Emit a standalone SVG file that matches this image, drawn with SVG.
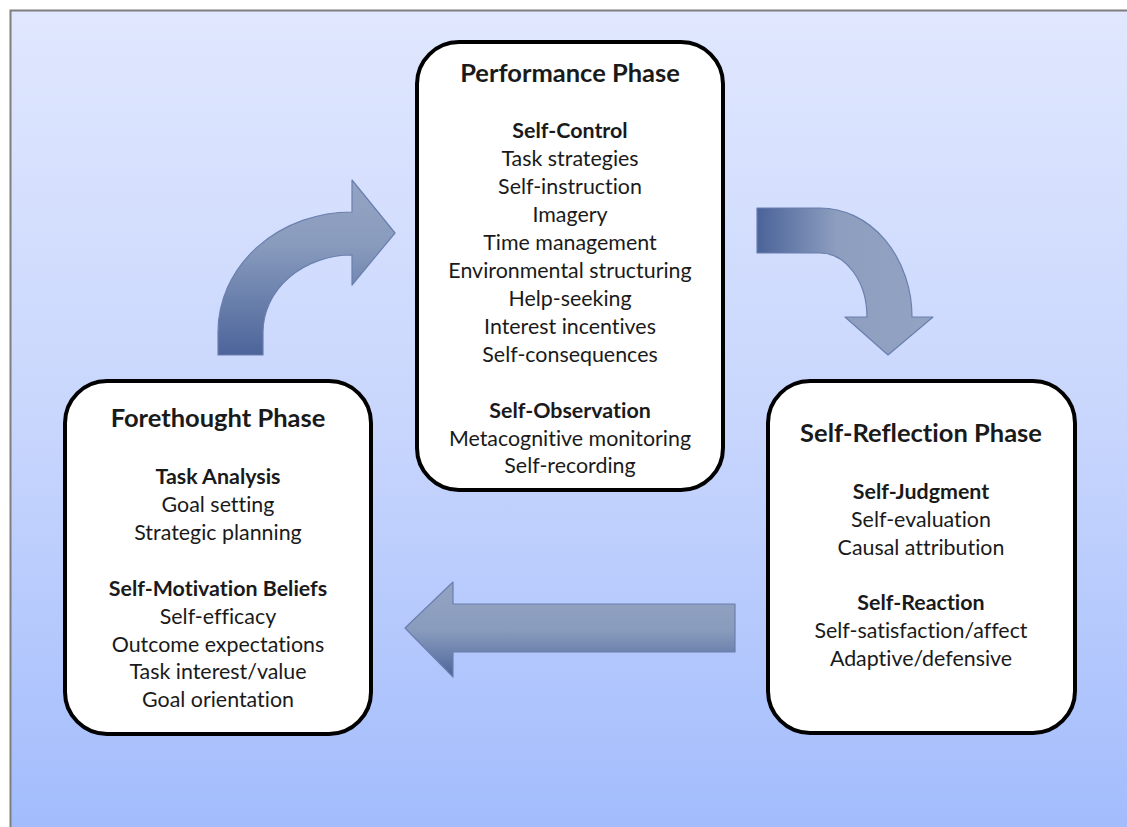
<svg xmlns="http://www.w3.org/2000/svg" width="1127" height="827" viewBox="0 0 1127 827">
  <defs>
    <linearGradient id="bg" x1="0" y1="0" x2="0" y2="1">
      <stop offset="0" stop-color="#e0e7fe"/>
      <stop offset="0.5" stop-color="#c8d6fd"/>
      <stop offset="1" stop-color="#a1bbfc"/>
    </linearGradient>
    <linearGradient id="gUp" gradientUnits="userSpaceOnUse" x1="0" y1="180" x2="0" y2="358">
      <stop offset="0" stop-color="#93a3c2"/>
      <stop offset="0.35" stop-color="#8a9cbe"/>
      <stop offset="1" stop-color="#4a6399"/>
    </linearGradient>
    <linearGradient id="gDown" gradientUnits="userSpaceOnUse" x1="757" y1="0" x2="935" y2="0">
      <stop offset="0" stop-color="#4a6399"/>
      <stop offset="0.45" stop-color="#8d9ebf"/>
      <stop offset="1" stop-color="#93a3c2"/>
    </linearGradient>
    <linearGradient id="gLeft" gradientUnits="userSpaceOnUse" x1="0" y1="582" x2="0" y2="677">
      <stop offset="0" stop-color="#93a3c2"/>
      <stop offset="0.5" stop-color="#8a9cbd"/>
      <stop offset="0.75" stop-color="#6c82ad"/>
      <stop offset="1" stop-color="#4c6298"/>
    </linearGradient>
  </defs>
  <style>
    .box { fill: #ffffff; stroke: #000000; stroke-width: 4; }
    .arrow { stroke: #6a7fae; stroke-width: 1.2; stroke-linejoin: round; }
    text { font-family: Lato, "Open Sans", "Liberation Sans", sans-serif; fill: #1a1a1a; text-anchor: middle; font-size: 21.4px; font-variant-ligatures: none; }
    .title { font-weight: bold; font-size: 25.5px; }
    .head { font-weight: bold; }
  </style>

  <!-- backdrop panel -->
  <rect x="10.5" y="10.5" width="1130" height="830" fill="url(#bg)" stroke="#7f7f7f" stroke-width="2"/>

  <!-- block arrows linking the phases -->
  <g id="connectors">
    <path class="arrow" fill="url(#gUp)" d="M218,355 L218,332 A134,120 0 0 1 352,212 L352,180 L395,233 L352,285 L352,255 A89,77 0 0 0 263,332 L263,355 Z"/>
    <path class="arrow" fill="url(#gDown)" d="M757,208 L820,208 A92,109 0 0 1 912,317 L933,317 L888,355 L845,317 L867,317 A47,64 0 0 0 820,253 L757,253 Z"/>
    <path class="arrow" fill="url(#gLeft)" d="M735,604 L453,604 L453,582 L405,628 L453,677 L453,652 L735,652 Z"/>
  </g>

  <g id="performance">
    <rect class="box" x="417" y="42" width="306" height="448" rx="42" ry="42"/>
    <text class="title" x="570" y="82">Performance Phase</text>
    <text class="head" x="570" y="138">Self-Control</text>
    <text x="570" y="166">Task strategies</text>
    <text x="570" y="194">Self-instruction</text>
    <text x="570" y="222">Imagery</text>
    <text x="570" y="250">Time management</text>
    <text x="570" y="278">Environmental structuring</text>
    <text x="570" y="306">Help-seeking</text>
    <text x="570" y="334">Interest incentives</text>
    <text x="570" y="362">Self-consequences</text>
    <text class="head" x="570" y="418">Self-Observation</text>
    <text x="570" y="446">Metacognitive monitoring</text>
    <text x="570" y="473">Self-recording</text>
  </g>

  <g id="forethought">
    <rect class="box" x="65" y="381" width="306" height="353" rx="42" ry="42"/>
    <text class="title" x="218" y="427">Forethought Phase</text>
    <text class="head" x="218" y="484">Task Analysis</text>
    <text x="218" y="512">Goal setting</text>
    <text x="218" y="540">Strategic planning</text>
    <text class="head" x="218" y="596">Self-Motivation Beliefs</text>
    <text x="218" y="624">Self-efficacy</text>
    <text x="218" y="652">Outcome expectations</text>
    <text x="218" y="679">Task interest/value</text>
    <text x="218" y="707">Goal orientation</text>
  </g>

  <g id="self-reflection">
    <rect class="box" x="768" y="381" width="307" height="352" rx="42" ry="42"/>
    <text class="title" x="921" y="442">Self-Reflection Phase</text>
    <text class="head" x="921" y="499">Self-Judgment</text>
    <text x="921" y="527">Self-evaluation</text>
    <text x="921" y="555">Causal attribution</text>
    <text class="head" x="921" y="610">Self-Reaction</text>
    <text x="921" y="638">Self-satisfaction/affect</text>
    <text x="921" y="666">Adaptive/defensive</text>
  </g>
</svg>
